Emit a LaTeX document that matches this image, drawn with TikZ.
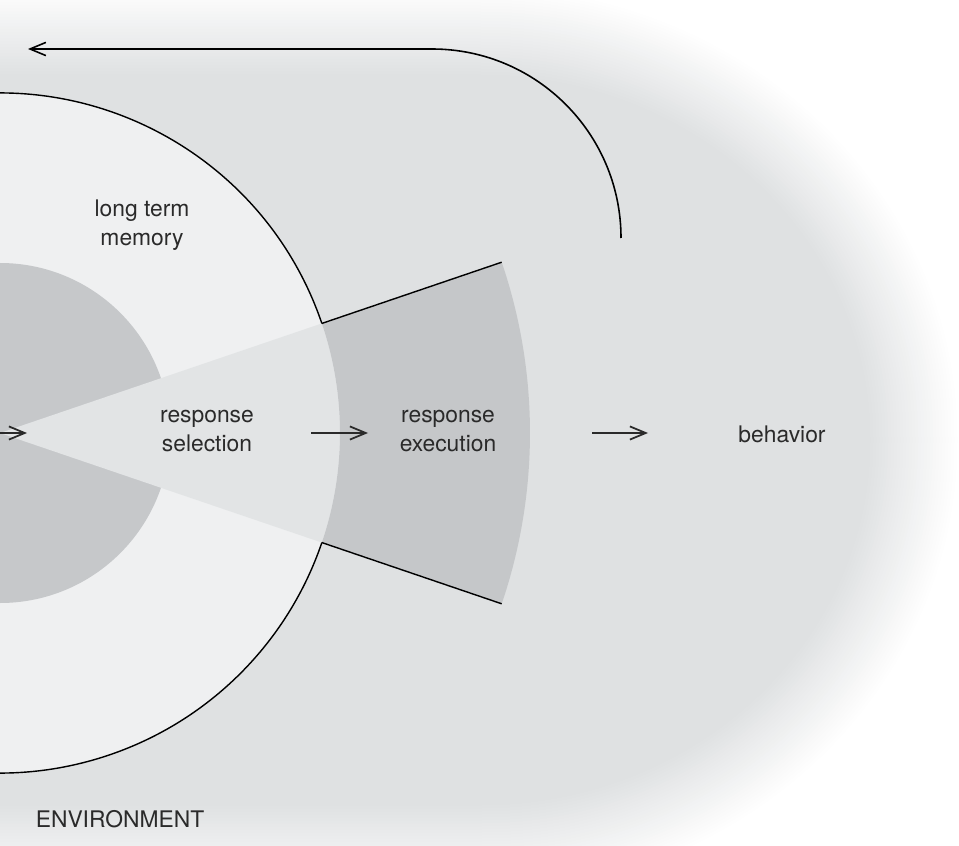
\documentclass[tikz,border=0pt]{standalone}
\usepackage{fontspec}
\setmainfont{TeX Gyre Heros}
\usetikzlibrary{arrows.meta}
\definecolor{envgray}{RGB}{223,225,226}
\definecolor{ltmgray}{RGB}{239,240,241}
\definecolor{coregray}{RGB}{198,200,202}
\definecolor{wedgegray}{RGB}{226,228,229}
\definecolor{execgray}{RGB}{197,199,201}
\definecolor{inkgray}{RGB}{42,42,42}

\begin{document}
\begin{tikzpicture}[x=0.02cm, y=0.02cm, line join=round]

    \tikzstyle{txt}=[align=center, inner sep=0pt, text=inkgray, font=\fontsize{13}{16.4}\selectfont]
    \tikzstyle{flow}=[line width=1pt, draw=inkgray, -{Straight Barb[length=9pt, width=7.5pt]}]
    \tikzstyle{rim}=[line width=0.8pt, draw=black]

    \useasboundingbox (0,-412) rectangle (959,433);
    \clip (0,-412) rectangle (959,433);

    % soft environment blob
    \foreach \k in {0,...,30} {
        \pgfmathsetmacro{\d}{45-3*\k}
        \pgfmathsetmacro{\p}{100*\k/30}
        \fill[envgray!\p!white] (-100,{403+\d}) -- (480,{403+\d})
            arc[start angle=90, end angle=-90, x radius={435+\d}, y radius={410+\d}]
            -- (-100,{-417-\d}) -- cycle;
    }

    % memory disc, selection wedge, execution band
    \fill[ltmgray] (0,0) circle[radius=340];
    \fill[coregray] (0,0) circle[radius=170];
    \fill[wedgegray] (0,0) -- (18.8:340) arc[start angle=18.8, end angle=-18.8, radius=340] -- cycle;
    \fill[execgray] (18.8:340) -- (18.8:530) arc[start angle=18.8, end angle=-18.8, radius=530]
        -- (-18.8:340) arc[start angle=-18.8, end angle=18.8, radius=340] -- cycle;
    \draw[rim] (18.8:340) arc[start angle=18.8, end angle=341.2, radius=340];
    \foreach \a in {18.8, -18.8} {
        \draw[rim] (\a:340) -- (\a:530);
    }

    \node[txt] (ltm) at (142,208) {long term\\memory};
    \node[txt] (sel) at (207,2) {response\\selection};
    \node[txt] (exec) at (448,2) {response\\execution};
    \node[txt] (beh) at (782,-1) {behavior};
    \node[txt] (env) at (120,-386) {ENVIRONMENT};

    \coordinate (inA) at (-5,0);
    \coordinate (inB) at (27,0);
    \coordinate (selA) at (311,0);
    \coordinate (selB) at (368,0);
    \coordinate (exeA) at (592,0);
    \coordinate (exeB) at (648,0);
    \coordinate (fbfrom) at (621,195);
    \coordinate (fbto) at (28,384);

    \draw[flow] (inA) -- (inB);
    \draw[flow] (selA) -- (selB);
    \draw[flow] (exeA) -- (exeB);
    \draw[flow, draw=black, line width=0.9pt] (fbfrom) arc[start angle=0, end angle=90, radius=189] -- (fbto);

\end{tikzpicture}
\end{document}
